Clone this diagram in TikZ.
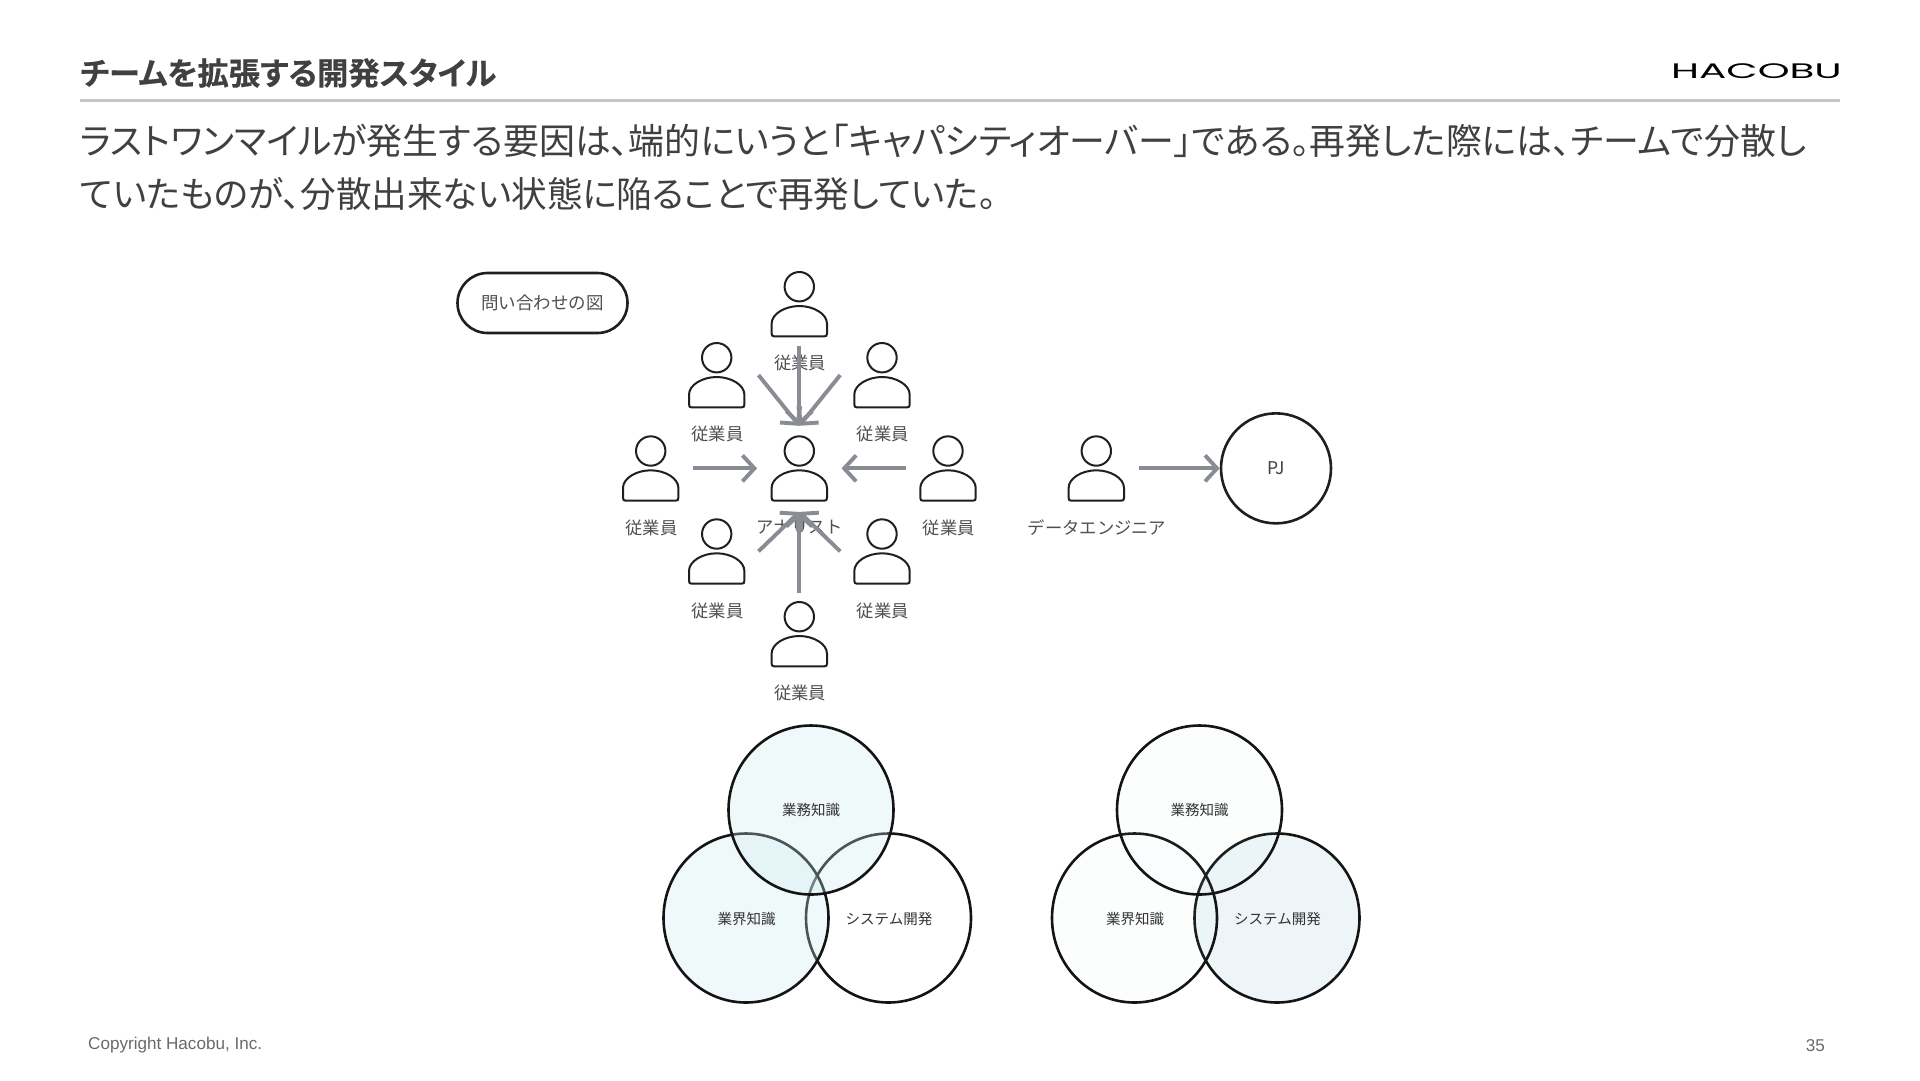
\documentclass[tikz,border=0pt]{standalone}
\usepackage{fontspec}
\usepackage{graphicx}
\setmainfont{Noto Sans CJK JP}
\newfontfamily\pal{Noto Sans CJK JP}[RawFeature=+palt]
\newfontfamily\jpb{Noto Sans CJK JP Bold}[RawFeature=+palt,FakeBold=0.5]
\newfontfamily\latin{Liberation Sans}
\newfontfamily\logofont{Poppins}
\usetikzlibrary{arrows.meta,shapes.geometric}
\definecolor{txt}{HTML}{404040}
\definecolor{lab}{HTML}{505050}
\definecolor{arrowgray}{HTML}{8A8C95}
\definecolor{rulegray}{HTML}{C6C6C6}
\definecolor{foot}{HTML}{6A6A6A}
\definecolor{teal}{HTML}{CEEEF1}
\definecolor{bluish}{HTML}{EDF5F8}
\tikzset{
  x=1pt,y=-1pt,
  line/.style={draw=black!88,line width=2pt},
  lbl/.style={text=lab,font=\fontsize{17.3}{20}\selectfont,inner sep=0pt},
  vlbl/.style={text=black!80,font=\fontsize{14.5}{18}\selectfont,inner sep=0pt},
  arr/.style={draw=arrowgray,line width=3.9pt,-{Straight Barb[length=12pt,width=26pt,line width=3.9pt]}},
  venn/.style={ellipse,minimum width=165pt,minimum height=169pt,inner sep=0pt,draw=black!92,line width=2.6pt},
  faint/.style={fill=teal,fill opacity=.05,text opacity=1},
  tealfill/.style={fill=teal,fill opacity=.3,text opacity=1},
  bluefill/.style={fill=bluish,fill opacity=1,text opacity=1},
}
\newcommand{\person}[5]{% name, x, headcy, labelname, label
  \begin{scope}[shift={(#2,#3)}]
    \draw[line] (0,0) circle[radius=14.7pt];
    \draw[line] (-25,49.7) -- (25,49.7) .. controls (27,49.7) and (27.7,48.7) .. (27.7,46.7) -- (27.7,37)
      .. controls (27.7,27) and (14,19.3) .. (0,19.3) .. controls (-14,19.3) and (-27.7,27) .. (-27.7,37)
      -- (-27.7,46.7) .. controls (-27.7,48.7) and (-27,49.7) .. (-25,49.7) -- cycle;
    \node[minimum width=56pt,minimum height=64.7pt,inner sep=0pt] (#1) at (0,17.35) {};
    \node[lbl] (#4) at (0.7,76.5) {#5};
  \end{scope}
}
\begin{document}
\begin{tikzpicture}
\useasboundingbox (0,0) rectangle (1920,1080);
\fill[white] (0,0) rectangle (1920,1080);

\node[anchor=west,inner sep=0pt,text=txt,font=\jpb\fontsize{31.3}{36}\selectfont] (title) at (80,73) {チームを拡張する開発スタイル};
\node[anchor=east,inner sep=0pt,text=black] (logo) at (1842,71) {\scalebox{1.93}[1]{\logofont\fontsize{21}{24}\selectfont HACOBU}};
\coordinate (ruleL) at (80,100);
\coordinate (ruleR) at (1840,100);
\draw[rulegray,line width=3pt] (ruleL) -- (ruleR);
\node[anchor=west,inner sep=0pt,text=txt,font=\pal\fontsize{35.9}{40}\selectfont] (line1) at (80,141) {ラストワンマイルが発生する要因は、端的にいうと「キャパシティオーバー」である。再発した際には、チームで分散し};
\node[anchor=west,inner sep=0pt,text=txt,font=\pal\fontsize{35.6}{40}\selectfont] (line2) at (80,193.5) {ていたものが、分散出来ない状態に陥ることで再発していた。};

\node[draw=black!88,line width=2.6pt,rounded corners=30pt,minimum width=170pt,minimum height=60pt,inner sep=0pt,text=lab,font=\fontsize{17.5}{20}\selectfont] (pill) at (542.5,303) {問い合わせの図};

\person{pT}{799.3}{286.7}{lT}{従業員}
\person{pTL}{716.7}{357.7}{lTL}{従業員}
\person{pTR}{882}{357.7}{lTR}{従業員}
\person{pL}{650.7}{451}{lL}{従業員}
\person{pC}{799.3}{451}{lC}{アナリスト}
\person{pR}{948}{451}{lR}{従業員}
\person{pBL}{716.7}{534}{lBL}{従業員}
\person{pBR}{882}{534}{lBR}{従業員}
\person{pB}{799.3}{616.7}{lB}{従業員}
\person{pD}{1096.3}{451}{lD}{データエンジニア}

\node[circle,minimum size=110pt,inner sep=0pt,draw=black!88,line width=2.6pt,text=txt,font=\fontsize{17.5}{20}\selectfont] (pj) at (1276,468.35) {\raisebox{-1pt}{PJ}};

\draw[arr] ([yshift=-9pt]pT.south) -- ([yshift=10pt]pC.north);
\draw[arr] ([xshift=13.6pt]pTL.east) -- ([yshift=10pt]pC.north);
\draw[arr] ([xshift=-13.6pt]pTR.west) -- ([yshift=10pt]pC.north);
\draw[arr] ([xshift=14pt]pL.east) -- ([xshift=-14pt]pC.west);
\draw[arr] ([xshift=-14pt]pR.west) -- ([xshift=14pt]pC.east);
\draw[arr] ([yshift=9pt]pB.north) -- ([yshift=-11pt]pC.south);
\draw[arr] ([xshift=13.6pt]pBL.east) -- ([yshift=-11pt]pC.south);
\draw[arr] ([xshift=-13.6pt]pBR.west) -- ([yshift=-11pt]pC.south);
\draw[arr] ([xshift=14pt]pD.east) -- (pj.west);

% first Venn
\node[venn] (v1r) at (888.5,918) {};
\node[venn,tealfill] (v1l) at (746,918) {};
\node[venn,tealfill] (v1t) at (811,810) {};
\node[vlbl] (v1tl) at (811,810.5) {業務知識};
\node[vlbl] (v1ll) at (746.5,918.7) {業界知識};
\node[vlbl] (v1rl) at (889,918.7) {システム開発};

% second Venn
\node[venn,bluefill] (v2r) at (1277,918) {};
\node[venn,faint] (v2l) at (1134.5,918) {};
\node[venn,faint] (v2t) at (1199.5,810) {};
\node[vlbl] (v2tl) at (1199.5,810.5) {業務知識};
\node[vlbl] (v2ll) at (1135,918.7) {業界知識};
\node[vlbl] (v2rl) at (1277.5,918.7) {システム開発};

\node[anchor=west,inner sep=0pt,text=foot,font=\latin\fontsize{17.1}{20}\selectfont] (copy) at (88,1045.5) {Copyright Hacobu, Inc.};
\node[anchor=east,inner sep=0pt,text=foot,font=\latin\fontsize{17.1}{20}\selectfont] (page) at (1825,1045.5) {35};
\end{tikzpicture}
\end{document}
